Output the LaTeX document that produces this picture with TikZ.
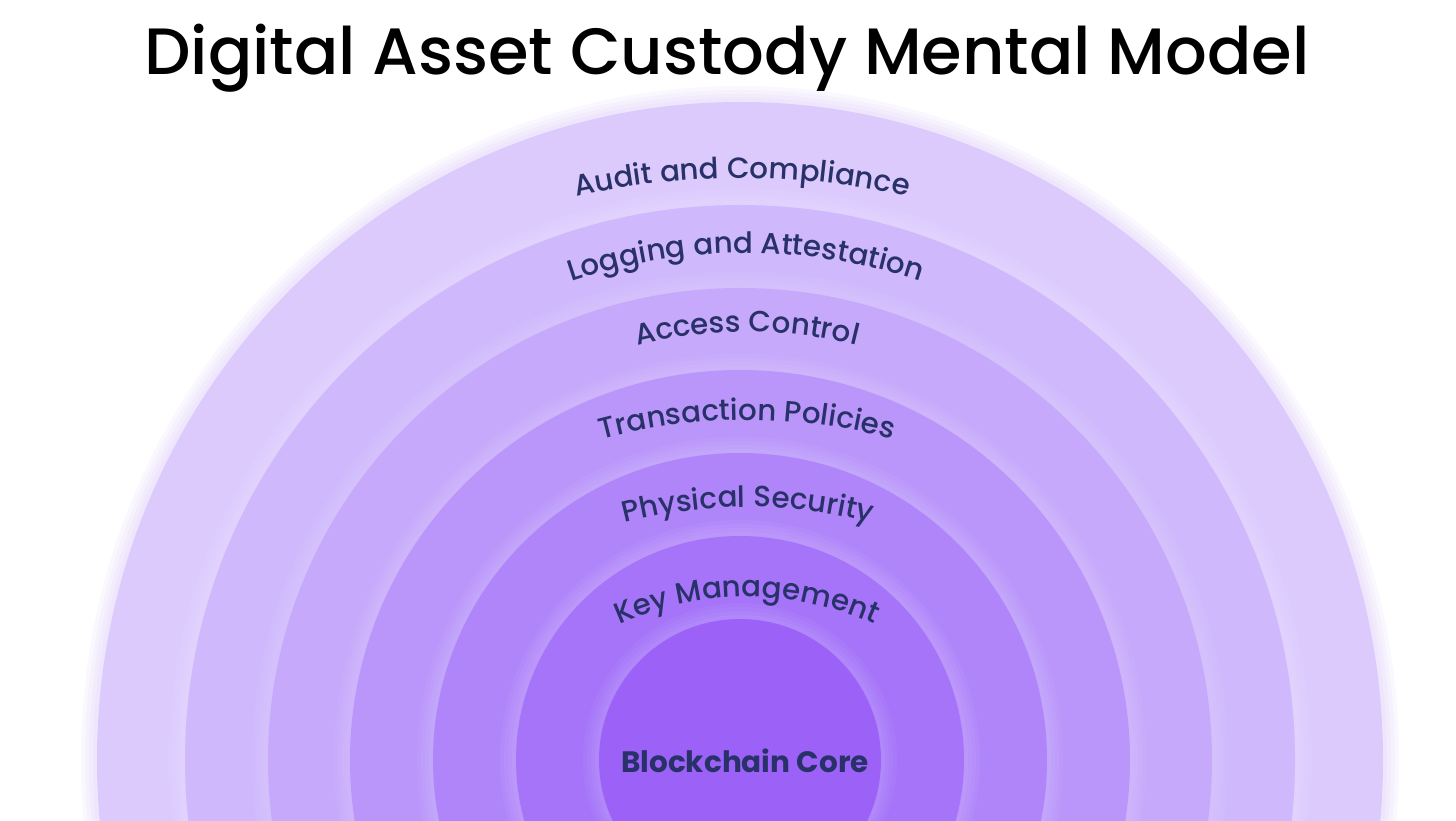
\documentclass[tikz,border=0pt]{standalone}
\usepackage{fontspec}
\setmainfont{Poppins}
\newfontfamily\popmed{Poppins Medium}
\usetikzlibrary{calc,decorations.text}
\definecolor{ringA}{HTML}{DCCAFD}
\definecolor{ringB}{HTML}{CFB8FC}
\definecolor{ringC}{HTML}{C6A9FB}
\definecolor{ringD}{HTML}{BA96FA}
\definecolor{ringE}{HTML}{B085FA}
\definecolor{ringF}{HTML}{A574F9}
\definecolor{ringG}{HTML}{9C62F8}
\definecolor{halo}{HTML}{D9C6FC}
\definecolor{txt}{HTML}{283168}
\newcommand{\lblfont}{\popmed\fontsize{29.3}{34}\selectfont\color{txt}}
\tikzset{
  title/.style={font=\popmed\fontsize{65.5}{78}\selectfont, text=black, inner sep=0pt, anchor=base},
  core/.style={font=\fontsize{29.5}{34}\selectfont\bfseries, text=txt, inner sep=0pt, anchor=base},
  glow/.style={fill=white, fill opacity=0.045},
  outerglow/.style={fill=halo, fill opacity=0.12},
}
% curved label: #1 mid x, #2 top y (tikz), #3 radius, #4 text
\newcommand{\arclabel}[4]{%
  \path[decorate,decoration={text along path,text align=center,
     text={|\lblfont|#4}}]
     ($(#1,#2-#3)+(90+40:#3)$) arc[start angle=130,end angle=50,radius=#3];}
\newcommand{\disc}[2]{%
  \fill[glow] (ctr) circle (#1+16);
  \fill[glow] (ctr) circle (#1+12);
  \fill[glow] (ctr) circle (#1+8);
  \fill[glow] (ctr) circle (#1+4);
  \fill[#2] (ctr) circle (#1);}
\begin{document}
\begin{tikzpicture}[x=1pt,y=1pt]
\useasboundingbox (0,0) rectangle (1456,820);
\fill[white] (0,0) rectangle (1456,820);
\begin{scope}
\clip (0,0) rectangle (1456,820);
\coordinate (ctr) at (740,60);
\foreach \g in {16,12,8,4}{
  \fill[outerglow] (ctr) ellipse [x radius=643+\g, y radius=658+\g];}
\fill[ringA] (ctr) ellipse [x radius=643, y radius=658];
\disc{555}{ringB}
\disc{472}{ringC}
\disc{390}{ringD}
\disc{307}{ringE}
\disc{224}{ringF}
\disc{141}{ringG}
\end{scope}
\node[title] (ttl) at (727,745) {Digital Asset Custody Mental Model};
\arclabel{742}{642}{743}{Audit and Compliance}
\arclabel{746}{567}{548}{Logging and Attestation}
\arclabel{747}{488}{450}{Access Control}
\arclabel{747}{400}{560}{Transaction Policies}
\arclabel{748}{313}{490}{Physical Security}
\arclabel{747}{223}{310}{Key Management}
\node[core] (bcore) at (745,48) {Blockchain Core};
\end{tikzpicture}
\end{document}
